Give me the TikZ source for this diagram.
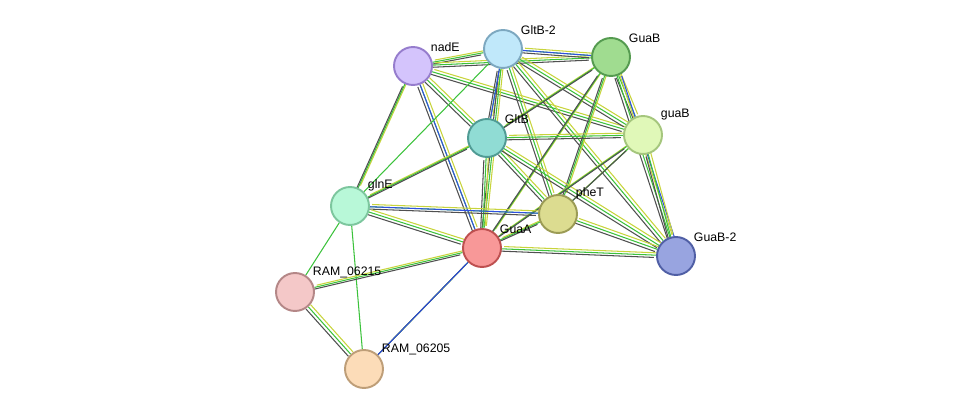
\documentclass[tikz,border=0pt]{standalone}
\usepackage{fontspec}
\setsansfont{Liberation Sans}
\usetikzlibrary{backgrounds}

\definecolor{cgreen}{HTML}{3CC23C}
\definecolor{cyell}{HTML}{C8D43C}
\definecolor{cdark}{HTML}{505050}
\definecolor{cblue}{HTML}{3050E0}

\tikzset{
  prot/.style={circle, minimum size=0.76cm, inner sep=0pt, line width=1.1pt},
  lbl/.style={font=\sffamily\scriptsize, inner sep=0pt, anchor=south west, xshift=0.07cm},
  eg/.style={cgreen, line width=0.6pt},
  ey/.style={cyell, line width=0.6pt},
  ed/.style={cdark, line width=0.6pt},
  eb/.style={cblue, line width=0.6pt}
}

% full link: several evidence lines
\newcommand{\lnk}[2]{%
  \draw[ey, transform canvas={shift={(0.045cm,0.045cm)}}] (#1) -- (#2);
  \draw[eg] (#1) -- (#2);
  \draw[ed, transform canvas={shift={(-0.045cm,-0.045cm)}}] (#1) -- (#2);
}
% thin link: text mining only
\newcommand{\tlnk}[2]{%
  \draw[eg] (#1) -- (#2);
}

\begin{document}
\begin{tikzpicture}[x=0.02cm, y=-0.02cm]
\useasboundingbox (0,0) rectangle (975,415);

% proteins
\node[prot, fill={rgb,255:red,212;green,196;blue,252}, draw={rgb,255:red,150;green,125;blue,205}] (nadE) at (413,66) {};
\node[prot, fill={rgb,255:red,192;green,232;blue,250}, draw={rgb,255:red,125;green,168;blue,192}] (gltB2) at (503,49) {};
\node[prot, fill={rgb,255:red,160;green,220;blue,144}, draw={rgb,255:red,85;green,155;blue,80}] (guaBu) at (611,57) {};
\node[prot, fill={rgb,255:red,144;green,220;blue,212}, draw={rgb,255:red,80;green,155;blue,148}] (gltB) at (487,138) {};
\node[prot, fill={rgb,255:red,224;green,248;blue,184}, draw={rgb,255:red,165;green,198;blue,125}] (guaB) at (643,135) {};
\node[prot, fill={rgb,255:red,184;green,248;blue,216}, draw={rgb,255:red,125;green,198;blue,158}] (glnE) at (350,206) {};
\node[prot, fill={rgb,255:red,220;green,220;blue,144}, draw={rgb,255:red,155;green,155;blue,85}] (pheT) at (558,214) {};
\node[prot, fill={rgb,255:red,248;green,152;blue,152}, draw={rgb,255:red,190;green,80;blue,80}] (guaA) at (482,248) {};
\node[prot, fill={rgb,255:red,152;green,164;blue,224}, draw={rgb,255:red,80;green,95;blue,165}] (guaB2) at (676,256) {};
\node[prot, fill={rgb,255:red,244;green,200;blue,200}, draw={rgb,255:red,180;green,135;blue,135}] (ram15) at (295,292) {};
\node[prot, fill={rgb,255:red,252;green,220;blue,184}, draw={rgb,255:red,190;green,158;blue,120}] (ram05) at (364,369) {};

% labels
\node[lbl] (lnadE) at (nadE.north east) {nadE};
\node[lbl] (lgltB2) at (gltB2.north east) {GltB-2};
\node[lbl] (lguaBu) at (guaBu.north east) {GuaB};
\node[lbl] (lgltB) at (gltB.north east) {GltB};
\node[lbl] (lguaB) at (guaB.north east) {guaB};
\node[lbl] (lglnE) at (glnE.north east) {glnE};
\node[lbl] (lpheT) at (pheT.north east) {pheT};
\node[lbl] (lguaA) at (guaA.north east) {GuaA};
\node[lbl] (lguaB2) at (guaB2.north east) {GuaB-2};
\node[lbl] (lram15) at (ram15.north east) {RAM\_06215};
\node[lbl] (lram05) at (ram05.north east) {RAM\_06205};

% links
\begin{scope}[on background layer]
\lnk{nadE}{gltB2} \lnk{nadE}{guaBu} \lnk{nadE}{gltB} \lnk{nadE}{guaB}
\lnk{nadE}{glnE} \lnk{nadE}{guaA}
\draw[eb] (nadE) -- (guaA);
\lnk{gltB2}{guaBu} \lnk{gltB2}{gltB} \lnk{gltB2}{guaB} \lnk{gltB2}{pheT}
\lnk{gltB2}{guaA} \lnk{gltB2}{guaB2} \tlnk{gltB2}{glnE}
\draw[eb] (gltB2) -- (guaBu);
\draw[eb] (gltB2) -- (gltB);
\lnk{guaBu}{gltB} \lnk{guaBu}{guaB} \lnk{guaBu}{pheT} \lnk{guaBu}{guaA}
\lnk{guaBu}{guaB2}
\draw[eb, transform canvas={shift={(0.09cm,0cm)}}] (guaBu) -- (guaB2);
\lnk{gltB}{guaB} \lnk{gltB}{glnE} \lnk{gltB}{pheT} \lnk{gltB}{guaA}
\lnk{gltB}{guaB2}
\lnk{guaB}{pheT} \lnk{guaB}{guaA} \lnk{guaB}{guaB2}
\lnk{glnE}{pheT} \lnk{glnE}{guaA}
\draw[eb] (glnE) -- (pheT);
\tlnk{glnE}{ram15} \tlnk{glnE}{ram05}
\lnk{pheT}{guaA} \lnk{pheT}{guaB2}
\lnk{guaA}{guaB2} \lnk{guaA}{ram15} \lnk{guaA}{ram05}
\draw[eb] (guaA) -- (ram05);
\lnk{ram15}{ram05}
\end{scope}

\end{tikzpicture}
\end{document}
